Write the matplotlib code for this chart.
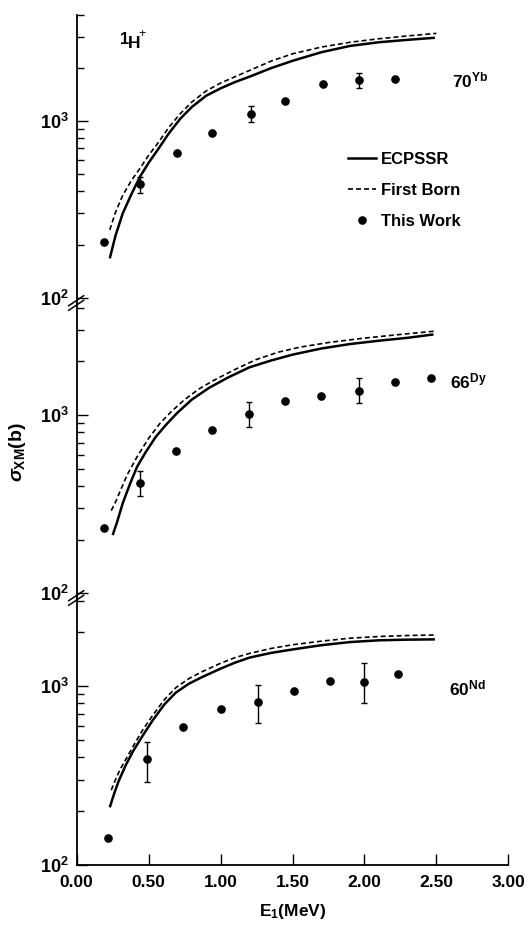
import matplotlib
matplotlib.use("Agg")
import matplotlib.pyplot as plt
from matplotlib import font_manager
from matplotlib.lines import Line2D
from matplotlib.ticker import FixedLocator, LogLocator, NullFormatter

# ---------------- data ----------------
# 70Yb
yb_E = [0.19, 0.44, 0.70, 0.94, 1.21, 1.45, 1.71, 1.96, 2.21]
yb_sig = [207, 438, 656, 852, 1096, 1292, 1620, 1708, 1722]
yb_err_idx = [1, 4, 7]
yb_err_lo = [45, 105, 177]
yb_err_hi = [46, 120, 169]
yb_ecp_E = [0.23, 0.27, 0.32, 0.38, 0.44, 0.50, 0.57, 0.64, 0.72, 0.80, 0.90, 1.00,
            1.10, 1.20, 1.35, 1.50, 1.70, 1.90, 2.10, 2.30, 2.49]
yb_ecp = [167, 225, 300, 385, 484, 580, 700, 850, 1030, 1200, 1390, 1530,
          1660, 1780, 1990, 2190, 2450, 2660, 2790, 2880, 2958]
yb_fb_E = [0.23, 0.27, 0.32, 0.38, 0.44, 0.50, 0.57, 0.64, 0.72, 0.80, 0.90, 1.00,
           1.10, 1.20, 1.35, 1.50, 1.70, 1.90, 2.10, 2.30, 2.50]
yb_fb = [242, 305, 380, 460, 540, 640, 760, 920, 1100, 1280, 1480, 1640,
         1780, 1930, 2180, 2400, 2620, 2790, 2920, 3030, 3133]

# 66Dy
dy_E = [0.19, 0.44, 0.69, 0.94, 1.20, 1.45, 1.70, 1.96, 2.21, 2.46]
dy_sig = [231, 418, 631, 824, 1013, 1193, 1278, 1363, 1531, 1612]
dy_err_idx = [1, 4, 7]
dy_err_lo = [67, 160, 190]
dy_err_hi = [67, 175, 243]
dy_ecp_E = [0.25, 0.28, 0.32, 0.37, 0.42, 0.48, 0.55, 0.62, 0.70, 0.80, 0.92, 1.05,
            1.20, 1.35, 1.50, 1.70, 1.90, 2.10, 2.30, 2.48]
dy_ecp = [212, 250, 320, 410, 513, 620, 755, 880, 1030, 1220, 1420, 1620,
          1850, 2020, 2180, 2360, 2500, 2610, 2710, 2830]
dy_fb_E = [0.24, 0.27, 0.30, 0.35, 0.42, 0.50, 0.58, 0.66, 0.75, 0.85, 0.95, 1.10,
           1.25, 1.40, 1.55, 1.75, 2.00, 2.25, 2.50]
dy_fb = [291, 325, 371, 460, 584, 740, 900, 1050, 1220, 1400, 1560, 1800,
         2050, 2250, 2400, 2550, 2700, 2830, 2958]

# 60Nd
nd_E = [0.22, 0.49, 0.74, 1.00, 1.26, 1.51, 1.76, 2.00, 2.23]
nd_sig = [142, 393, 593, 741, 818, 942, 1071, 1057, 1167]
nd_err_idx = [1, 4, 7]
nd_err_lo = [102, 200, 250]
nd_err_hi = [96, 199, 282]
nd_ecp_E = [0.23, 0.26, 0.29, 0.34, 0.39, 0.46, 0.53, 0.61, 0.69, 0.78, 0.87, 1.00,
            1.10, 1.20, 1.35, 1.50, 1.70, 1.90, 2.10, 2.30, 2.49]
nd_ecp = [210, 250, 292, 360, 430, 530, 646, 790, 920, 1030, 1120, 1250,
          1350, 1440, 1530, 1600, 1690, 1760, 1800, 1815, 1822]
nd_fb_E = [0.24, 0.27, 0.30, 0.35, 0.39, 0.46, 0.53, 0.61, 0.69, 0.78, 0.87, 1.00,
           1.10, 1.20, 1.35, 1.50, 1.70, 1.90, 2.10, 2.30, 2.50]
nd_fb = [262, 300, 340, 400, 458, 570, 689, 840, 980, 1100, 1200, 1340,
         1440, 1520, 1620, 1700, 1780, 1850, 1890, 1915, 1928]

x_ticks = [0.0, 0.5, 1.0, 1.5, 2.0, 2.5, 3.0]
x_ticklabels = ["0.00", "0.50", "1.00", "1.50", "2.00", "2.50", "3.00"]
panel_labels = [r"$\mathbf{70^{Yb}}$", r"$\mathbf{66^{Dy}}$", r"$\mathbf{60^{Nd}}$"]
legend_labels = ["ECPSSR", "First Born", "This Work"]

# ---------------- fonts ----------------
avail = {f.name for f in font_manager.fontManager.ttflist}
fname = "DejaVu Sans"
for cand in ["Liberation Sans Narrow", "Liberation Sans", "DejaVu Sans"]:
    if cand in avail:
        fname = cand
        break
plt.rcParams["font.family"] = [fname, "DejaVu Sans"]
plt.rcParams["font.weight"] = "bold"
plt.rcParams["mathtext.fontset"] = "custom"
plt.rcParams["mathtext.rm"] = fname
plt.rcParams["mathtext.bf"] = fname + ":bold"
plt.rcParams["mathtext.it"] = fname + ":italic"
plt.rcParams["mathtext.sf"] = fname

W, H = 530, 926
fig = plt.figure(figsize=(W / 100, H / 100), dpi=100)

XL, XR = 76.7, 508.3
# (top_px, bottom_px, y_of_1000, y_of_100)
geoms = [
    (14.6, 303.0, 121.0, 297.7),
    (303.0, 598.0, 415.0, 593.3),
    (598.0, 865.0, 686.0, 865.0),
]

datasets = [
    (yb_E, yb_sig, yb_err_idx, yb_err_lo, yb_err_hi, yb_ecp_E, yb_ecp, yb_fb_E, yb_fb),
    (dy_E, dy_sig, dy_err_idx, dy_err_lo, dy_err_hi, dy_ecp_E, dy_ecp, dy_fb_E, dy_fb),
    (nd_E, nd_sig, nd_err_idx, nd_err_lo, nd_err_hi, nd_ecp_E, nd_ecp, nd_fb_E, nd_fb),
]
label_pos = [(452, 87), (450, 388), (449, 695)]

axes = []
for i, ((top, bot, y3, y2), ds) in enumerate(zip(geoms, datasets)):
    ax = fig.add_axes([XL / W, 1 - bot / H, (XR - XL) / W, (bot - top) / H])
    dec = y2 - y3
    lo = 10 ** (2 - (bot - y2) / dec)
    hi = 10 ** (3 + (y3 - top) / dec)
    E, s, eidx, elo, ehi, ecE, ec, fbE, fb = ds
    ax.plot(ecE, ec, color="black", lw=1.8, solid_capstyle="butt", solid_joinstyle="round")
    ax.plot(fbE, fb, color="black", lw=1.2, dashes=(3, 1.8))
    ax.plot(E, s, "o", color="black", ms=5.2, mec="black")
    ax.errorbar([E[k] for k in eidx], [s[k] for k in eidx],
                yerr=[elo, ehi], fmt="none", ecolor="black",
                elinewidth=1.0, capsize=2.2, capthick=1.0)
    ax.set_yscale("log")
    ax.set_ylim(lo, hi)
    ax.set_xlim(0, 3.0)
    for sp in ["top", "right"]:
        ax.spines[sp].set_visible(False)
    ax.spines["left"].set_linewidth(1.3)
    ax.spines["bottom"].set_linewidth(1.3)
    if i < 2:
        ax.spines["bottom"].set_visible(False)
        ax.tick_params(axis="x", which="both", bottom=False, labelbottom=False)
    else:
        ax.set_xticks(x_ticks)
        ax.set_xticklabels(x_ticklabels, fontsize=12.5, fontweight="bold")
        ax.tick_params(axis="x", direction="in", length=8, width=1.0, pad=7)
        ax.set_xlabel(r"$\mathbf{E_1(MeV)}$", fontsize=12.5, labelpad=9)
    ax.yaxis.set_major_locator(FixedLocator([100, 1000]))
    ax.set_yticklabels([r"$\mathbf{10^{2}}$", r"$\mathbf{10^{3}}$"], fontsize=13)
    ax.yaxis.set_minor_locator(LogLocator(base=10, subs=range(2, 10), numticks=20))
    ax.yaxis.set_minor_formatter(NullFormatter())
    ax.tick_params(axis="y", which="major", direction="in", length=8, width=1.0, pad=6)
    ax.tick_params(axis="y", which="minor", direction="in", length=5, width=1.0)
    lx, ly = label_pos[i]
    fig.text(lx / W, 1 - ly / H, panel_labels[i], fontsize=12.5, ha="left", va="baseline")
    axes.append(ax)

# break marks on the y axis
for yc in [303.0, 598.0]:
    for dy in [-2.3, 2.3]:
        x0, x1 = XL - 8, XL + 7
        y0, y1 = yc + dy + 5, yc + dy - 5
        fig.add_artist(Line2D([x0 / W, x1 / W], [1 - y0 / H, 1 - y1 / H],
                              transform=fig.transFigure, color="black", lw=1.1))

# legend in top panel
handles = [Line2D([], [], color="black", lw=1.8),
           Line2D([], [], color="black", lw=1.2, dashes=(3, 1.8)),
           Line2D([], [], color="black", marker="o", ls="none", ms=5.2)]
axes[0].legend(handles, legend_labels, loc="upper left",
               bbox_to_anchor=(348 / W, 1 - 152 / H), bbox_transform=fig.transFigure,
               frameon=False, handlelength=1.7, handletextpad=0.3,
               labelspacing=0.95, borderpad=0, borderaxespad=0,
               prop={"weight": "bold", "size": 12})

# 1H+ label
fig.text(120 / W, 1 - 44 / H, "1", fontsize=12, fontweight="bold", va="baseline")
fig.text(127.5 / W, 1 - 48 / H, "H", fontsize=12.5, fontweight="bold", va="baseline")
fig.text(138 / W, 1 - 37 / H, "+", fontsize=9, fontweight="normal", va="baseline")

# y label
fig.text(17 / W, 1 - 452 / H, r"$\sigma_{\mathbf{XM}}\mathbf{(b)}$", rotation=90,
         fontsize=14, ha="center", va="center")

fig.savefig("out.png", dpi=100)
